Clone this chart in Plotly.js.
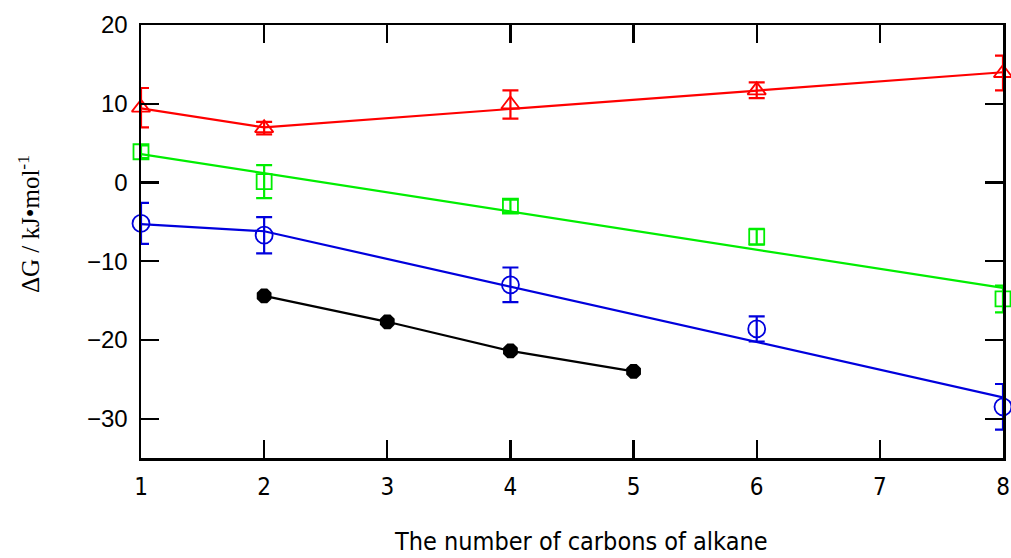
<!DOCTYPE html>
<html>
<head>
<meta charset="utf-8">
<script src="https://cdn.plot.ly/plotly-3.0.1.min.js"></script>
<style>html,body{margin:0;padding:0;background:#fff;}#chart{width:1011px;height:558px;}</style>
</head>
<body>
<div id="chart"></div>
<script>
// Measured points (number of carbons vs ΔG, kJ/mol)
const redX = [1, 2, 4, 6, 8];
const redY = [9.5, 6.9, 9.9, 11.7, 13.9];
const redErr = [2.5, 0.8, 1.8, 1.0, 2.2];

const greenX = [1, 2, 4, 6, 8];
const greenY = [3.9, 0.1, -3.0, -6.9, -14.8];
const greenErr = [0.8, 2.1, 0.8, 1.0, 1.7];

const blueX = [1, 2, 4, 6, 8];
const blueY = [-5.2, -6.7, -13.0, -18.6, -28.5];
const blueErr = [2.6, 2.3, 2.2, 1.6, 2.9];

const blackX = [2, 3, 4, 5];
const blackY = [-14.4, -17.7, -21.4, -24.0];

// Fitted lines as drawn in the figure
const redFitX = [1, 2, 8];
const redFitY = [9.4, 7.0, 14.0];
const greenFitX = [1, 8];
const greenFitY = [3.6, -13.4];
const blueFitX = [1, 2, 8];
const blueFitY = [-5.3, -6.2, -27.3];

const xTicks = [1, 2, 3, 4, 5, 6, 7, 8];
const yTicks = [-30, -20, -10, 0, 10, 20];
const yTickText = ['\u221230', '\u221220', '\u221210', '0', '10', '20'];

const RED = '#ff0000', GREEN = '#00ee00', BLUE = '#0000dd', BLACK = '#000000';

function fit(x, y, c) {
  return {x: x, y: y, type: 'scatter', mode: 'lines', line: {color: c, width: 2.2},
          hoverinfo: 'skip', showlegend: false, cliponaxis: false};
}
function pts(x, y, e, c, sym, size) {
  return {x: x, y: y, type: 'scatter', mode: 'markers', showlegend: false, cliponaxis: false,
          marker: {symbol: sym, size: size, color: c, line: {color: c, width: 1.8}},
          error_y: {type: 'data', array: e, visible: true, color: c, thickness: 2.2, width: 8}};
}

const data = [
  fit(redFitX, redFitY, RED),
  fit(greenFitX, greenFitY, GREEN),
  fit(blueFitX, blueFitY, BLUE),
  {x: blackX, y: blackY, type: 'scatter', mode: 'lines+markers', showlegend: false, cliponaxis: false,
   line: {color: BLACK, width: 2.2}, marker: {symbol: 'octagon', size: 16, color: BLACK}},
  pts(redX, redY, redErr, RED, 'triangle-up-open', 16),
  pts(greenX, greenY, greenErr, GREEN, 'square-open', 15),
  pts(blueX, blueY, blueErr, BLUE, 'circle-open', 17)
];

const axisCommon = {
  showline: true, linecolor: '#000', linewidth: 2.5, mirror: 'allticks',
  ticks: 'inside', ticklen: 18, tickwidth: 2.2, tickcolor: '#000',
  showgrid: false, zeroline: false
};

const NARROW = '"Liberation Sans Narrow", "DejaVu Sans Condensed", "Liberation Sans", Arial';

const layout = {
  width: 1011, height: 558,
  margin: {l: 141, r: 8, t: 25, b: 100},
  paper_bgcolor: '#fff', plot_bgcolor: '#fff',
  xaxis: Object.assign({}, axisCommon, {
    range: [1, 8], tickvals: xTicks, ticktext: xTicks.map(String),
    tickfont: {family: NARROW, size: 24, color: '#000'},
    ticklabelstandoff: 6
  }),
  yaxis: Object.assign({}, axisCommon, {
    range: [-35, 20], tickvals: yTicks, ticktext: yTickText,
    tickfont: {family: '"Liberation Sans", Arial', size: 24, color: '#000'},
    ticklabelstandoff: 6
  }),
  annotations: [
    {text: 'The number of carbons of alkane', xref: 'paper', yref: 'paper',
     x: 0.51, y: -0.193, xanchor: 'center', yanchor: 'middle', showarrow: false,
     font: {family: NARROW, size: 25, color: '#000'}},
    {text: '\u0394G / kJ\u2022mol<sup>-1</sup>', xref: 'paper', yref: 'paper',
     x: -0.13, y: 0.54, xanchor: 'center', yanchor: 'middle', textangle: -90, showarrow: false,
     font: {family: '"Liberation Serif", "Times New Roman", serif', size: 25, color: '#000'}}
  ]
};

Plotly.newPlot('chart', data, layout, {staticPlot: true, displayModeBar: false});
</script>
</body>
</html>
